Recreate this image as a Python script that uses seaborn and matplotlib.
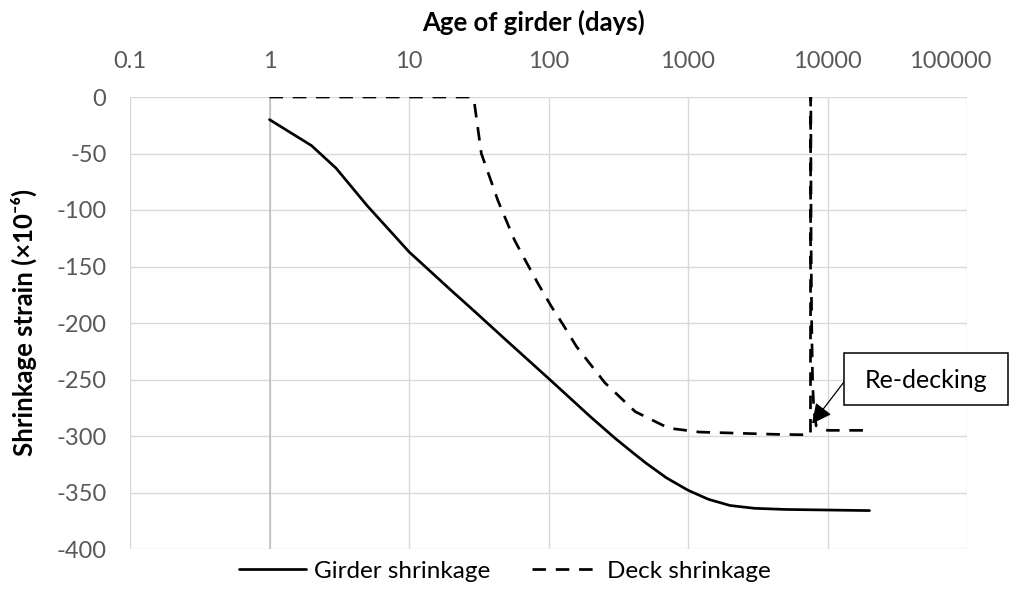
import numpy as np
import pandas as pd
import matplotlib
matplotlib.use("Agg")
import matplotlib.pyplot as plt
import matplotlib.transforms as mtransforms
from matplotlib.patches import Rectangle
import seaborn as sns

# ---- data ----
girder_days = [1, 2, 3, 5, 10, 14, 20, 30, 50, 100, 200, 300, 400, 500, 700,
               1000, 1400, 2000, 3000, 5000, 10000, 20000]
girder_strain = [-20, -43, -63, -96, -137, -153.5, -171, -190.5, -215.5, -249,
                 -283, -302, -314.5, -324, -337, -348, -356, -361.5, -364, -365,
                 -365.5, -366]

deck_days = [1, 28, 29.4, 33, 43.5, 57, 65.8, 84, 105, 128, 159, 254, 419, 725,
             1200, 4200, 7550, 7570, 7598, 7603, 7627, 7698, 7824, 7989, 8295,
             10000, 20000]
deck_strain = [0, 0, -5, -50, -92, -126.5, -141, -165, -185.5, -202, -221, -253,
               -278.5, -293, -296.5, -298.5, -299, 0, 0, -53, -126, -200, -253,
               -278, -291, -295, -295]

x_ticks = [0.1, 1, 10, 100, 1000, 10000, 100000]
x_tick_labels = ["0.1", "1", "10", "100", "1000", "10000", "100000"]
y_ticks = [0, -50, -100, -150, -200, -250, -300, -350, -400]

series_names = ["Girder shrinkage", "Deck shrinkage"]
annotation_text = "Re-decking"
annot_point = (7750, -289)

# ---- style ----
sns.set_theme(style="white")
plt.rcParams["font.family"] = ["Lato", "DejaVu Sans"]
FS_TICK = 17
FS_TITLE = 18.5
FS_LEG = 17.5
TICK_C = "#595959"
GRID_C = "#d9d9d9"

W, H = 1010, 601
fig = plt.figure(figsize=(W / 100, H / 100), dpi=100)
L, R, T, B = 130, 967, 97, 549
ax = fig.add_axes([L / W, 1 - B / H, (R - L) / W, (B - T) / H])

gdf = pd.DataFrame({"days": girder_days, "strain": girder_strain})
ddf = pd.DataFrame({"days": deck_days, "strain": deck_strain})

lw = 1.95
sns.lineplot(data=gdf, x="days", y="strain", ax=ax, color="black", lw=lw,
             sort=False, estimator=None, label=series_names[0], zorder=3)
sns.lineplot(data=ddf, x="days", y="strain", ax=ax, color="black", lw=lw,
             sort=False, estimator=None, label=series_names[1], zorder=3)
ax.lines[1].set_dashes((5, 3.6))
ax.lines[1].set_dash_capstyle("butt")

ax.set_xscale("log")
ax.set_xlim(0.1, 100000)
ax.set_ylim(-400, 0)
ax.set_xticks(x_ticks)
ax.set_xticklabels(x_tick_labels)
ax.minorticks_off()
ax.set_yticks(y_ticks)
ax.set_yticklabels([str(v) for v in y_ticks])
ax.xaxis.tick_top()
ax.tick_params(axis="x", length=0, pad=18, labelsize=FS_TICK, labelcolor=TICK_C)
ax.tick_params(axis="y", length=0, pad=17, labelsize=FS_TICK, labelcolor=TICK_C)
ax.set_xlabel("")
ax.set_ylabel("")

# last x label is pulled inside the chart as in the reference
last = ax.get_xticklabels()[-1]
last.set_transform(last.get_transform() +
                   mtransforms.ScaledTranslation(-0.17, 0, fig.dpi_scale_trans))

ax.grid(True, which="major", color=GRID_C, lw=1.0, zorder=0)
ax.set_axisbelow(True)
for s in ax.spines.values():
    s.set_visible(False)
ax.axvline(1, color="#bfbfbf", lw=1.2, zorder=1)

ax.get_legend().remove()

fig.text(534 / W, 1 - 22 / H, "Age of girder (days)", ha="center", va="center",
         fontsize=FS_TITLE, fontweight="bold", color="black")
fig.text(24 / W, 1 - 322 / H, "Shrinkage strain (×10⁻⁶)", ha="center",
         va="center", rotation=90, fontsize=FS_TITLE, fontweight="bold",
         color="black")

handles, labels = ax.get_legend_handles_labels()
leg = fig.legend(handles, labels, loc="center", bbox_to_anchor=(0.5, 1 - 571 / H),
                 ncol=2, frameon=False, fontsize=FS_LEG, handlelength=2.75,
                 columnspacing=1.7, handletextpad=0.33)
for t in leg.get_texts():
    t.set_color("black")

# annotation box (figure pixels)
box = Rectangle((844, H - 405), 164, 52, transform=None, fc="white",
                ec="black", lw=1.1, zorder=6)
fig.add_artist(box)
fig.text(926 / W, 1 - 380 / H, annotation_text, ha="center", va="center",
         fontsize=18, color="black", zorder=7)
ax.annotate("", xy=annot_point, xycoords="data",
            xytext=(844, H - 382), textcoords="figure pixels",
            arrowprops=dict(arrowstyle="-|>,head_length=0.8,head_width=0.4",
                            color="black", lw=0.9, shrinkA=0, shrinkB=0,
                            mutation_scale=15),
            annotation_clip=False, zorder=5)

fig.savefig("out.png", dpi=100)
